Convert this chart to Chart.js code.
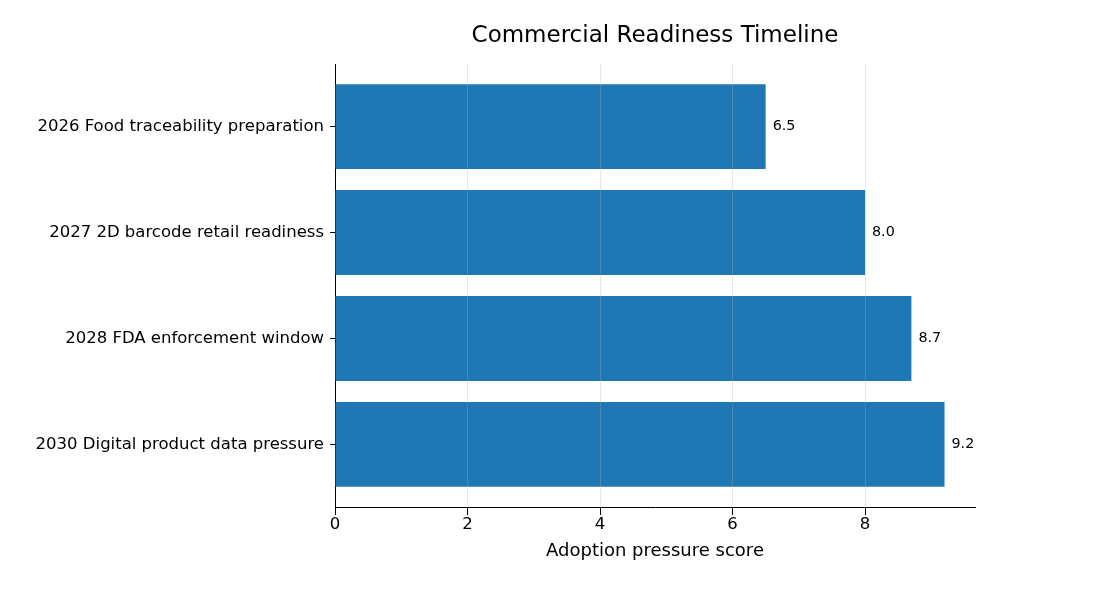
<!DOCTYPE html>
<html>
<head>
<meta charset="utf-8">
<script src="https://cdn.jsdelivr.net/npm/chart.js@4.4.1/dist/chart.umd.min.js"></script>
<style>
  html, body { margin: 0; padding: 0; background: #fff; }
</style>
</head>
<body>
<canvas id="chart" width="1102" height="610"></canvas>
<script>
const categories = [
    "2026 Food traceability preparation",
    "2027 2D barcode retail readiness",
    "2028 FDA enforcement window",
    "2030 Digital product data pressure"
];
const scores = [6.5, 8.0, 8.7, 9.2];
const xTicks = [0, 2, 4, 6, 8];

const FONT = "'DejaVu Sans', sans-serif";

// writes the score just right of each bar
const valueLabels = {
    id: 'valueLabels',
    afterDatasetsDraw(chart) {
        const ctx = chart.ctx;
        const meta = chart.getDatasetMeta(0);
        ctx.save();
        ctx.font = '14.3px ' + FONT;
        ctx.fillStyle = '#000';
        ctx.textAlign = 'left';
        ctx.textBaseline = 'middle';
        meta.data.forEach((bar, i) => {
            ctx.fillText(scores[i].toFixed(1), bar.x + 7, bar.y);
        });
        ctx.restore();
    }
};

const ctx = document.getElementById('chart').getContext('2d');

new Chart(ctx, {
    type: 'bar',
    data: {
        datasets: [{
            data: scores.map((v, i) => ({x: v, y: i})),
            backgroundColor: '#1f77b4',
            borderWidth: 0,
            categoryPercentage: 1,
            barPercentage: 0.8
        }]
    },
    options: {
        indexAxis: 'y',
        responsive: false,
        animation: false,
        devicePixelRatio: 1,
        layout: {padding: {left: 0, right: 127, top: 0, bottom: 48.2}},
        plugins: {
            legend: {display: false},
            tooltip: {enabled: false},
            title: {
                display: true,
                text: 'Commercial Readiness Timeline',
                fullSize: false,
                color: '#000',
                font: {family: FONT, size: 23, weight: 'normal'},
                padding: {top: 22, bottom: 14.4}
            }
        },
        scales: {
            x: {
                type: 'linear',
                min: 0,
                max: 9.66,
                afterBuildTicks: (scale) => {
                    scale.ticks = xTicks.map(v => ({value: v}));
                },
                afterFit: (scale) => {
                    scale.height = 54.8;
                },
                grid: {
                    z: 1,
                    color: (c) => c.tick && c.tick.value === 0 ? 'rgba(0,0,0,0)' : 'rgba(176,176,176,0.3)',
                    tickColor: '#000',
                    tickWidth: 1,
                    tickLength: 8,
                    drawTicks: true,
                    lineWidth: 1
                },
                border: {display: true, color: '#000', width: 1, z: 1},
                ticks: {
                    color: '#000',
                    padding: 0,
                    font: {family: FONT, size: 16.5}
                },
                title: {
                    display: true,
                    text: 'Adoption pressure score',
                    color: '#000',
                    font: {family: FONT, size: 18},
                    padding: {top: 0.4, bottom: 0}
                }
            },
            y: {
                type: 'linear',
                min: -0.59,
                max: 3.59,
                reverse: true,
                offset: false,
                afterBuildTicks: (scale) => {
                    scale.ticks = categories.map((c, i) => ({value: i}));
                },
                afterFit: (scale) => {
                    scale.width = 335;
                },
                grid: {
                    offset: false,
                    color: 'rgba(0,0,0,0)',
                    tickColor: '#000',
                    tickWidth: 1,
                    tickLength: 5
                },
                border: {display: true, color: '#000', width: 1},
                ticks: {
                    color: '#000',
                    padding: 6,
                    font: {family: FONT, size: 16.5},
                    callback: (v) => categories[v]
                }
            }
        }
    },
    plugins: [valueLabels]
});
</script>
</body>
</html>
